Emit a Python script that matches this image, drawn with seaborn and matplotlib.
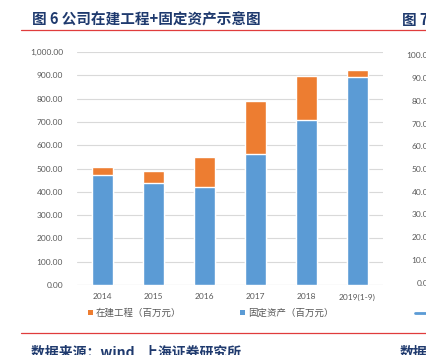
import matplotlib
matplotlib.use("Agg")
import matplotlib.pyplot as plt
import seaborn as sns
import pandas as pd
from matplotlib.patches import Patch
from matplotlib.lines import Line2D

years = ["2014", "2015", "2016", "2017", "2018", "2019(1-9)"]
fixed_assets = [472, 438, 419, 563, 709, 891]
construction = [36, 51, 130, 227, 188, 32]
yticks = [0, 100, 200, 300, 400, 500, 600, 700, 800, 900, 1000]
right_ticks = [0, 10, 20, 30, 40, 50, 60, 70, 80, 90, 100]

BLUE = "#5B9BD5"
ORANGE = "#ED7D31"
GRAY = "#595959"
NAVY = "#1F3A6E"
RED = "#E03C3C"

sns.set_theme(style="white")
plt.rcParams["font.family"] = ["Noto Sans CJK SC", "DejaVu Sans"]

W, H = 426, 355
fig = plt.figure(figsize=(W / 100, H / 100), dpi=100)
fig.patch.set_facecolor("white")

def fx(px):
    return px / W

def fy(py):
    return 1 - py / H

ax = fig.add_axes([fx(77), fy(285), fx(383) - fx(77), fy(52) - fy(285)])

df = pd.DataFrame({
    "year": years,
    "total": [a + b for a, b in zip(fixed_assets, construction)],
    "fixed": fixed_assets,
})

sns.barplot(data=df, x="year", y="total", color=ORANGE, width=0.4,
            saturation=1, ax=ax, zorder=2)
sns.barplot(data=df, x="year", y="fixed", color=BLUE, width=0.4,
            saturation=1, ax=ax, zorder=3)

ax.set_ylim(0, 1000)
ax.set_xlim(-0.5, len(years) - 0.5)
ax.set_yticks(yticks)
ax.set_yticklabels([f"{v:,.2f}" for v in yticks])
ax.set_xlabel("")
ax.set_ylabel("")
ax.yaxis.grid(True, color="#D9D9D9", linewidth=0.8, zorder=0)
ax.set_axisbelow(True)
for s in ["top", "right", "left", "bottom"]:
    ax.spines[s].set_visible(False)
ax.axhline(0, color="#D9D9D9", linewidth=0.8, zorder=1)
ax.tick_params(axis="both", length=0, colors=GRAY, labelsize=6)
ax.tick_params(axis="y", pad=10)
ax.tick_params(axis="x", pad=6)
for lab in ax.get_xticklabels() + ax.get_yticklabels():
    lab.set_fontfamily(["Lato", "DejaVu Sans"])
    lab.set_color(GRAY)

handles = [Patch(facecolor=ORANGE, edgecolor="none", label="在建工程（百万元）"),
           Patch(facecolor=BLUE, edgecolor="none", label="固定资产（百万元）")]
leg = fig.legend(handles=handles, loc="center left", ncol=2,
                 bbox_to_anchor=(fx(84), fy(313)), frameon=False,
                 fontsize=6.8, handlelength=0.55, handleheight=0.55,
                 handletextpad=0.3, columnspacing=6.2, borderaxespad=0)
for t in leg.get_texts():
    t.set_color(GRAY)

# title and rules
fig.text(fx(32), fy(20), "图 6 公司在建工程+固定资产示意图", fontsize=10.5,
         fontweight="bold", color=NAVY, va="center", ha="left")
fig.text(fx(402), fy(20), "图 7", fontsize=10.5, fontweight="bold",
         color=NAVY, va="center", ha="left")
fig.add_artist(Line2D([fx(21), 1.0], [fy(30), fy(30)], color=RED, linewidth=0.9))
fig.add_artist(Line2D([fx(21), 1.0], [fy(333), fy(333)], color=RED, linewidth=0.9))

# source note
fig.text(fx(31), fy(352), "数据来源：wind   上海证券研究所", fontsize=10,
         fontweight="bold", fontstyle="italic", color=NAVY, va="center", ha="left")
fig.text(fx(400), fy(352), "数据", fontsize=10, fontweight="bold",
         fontstyle="italic", color=NAVY, va="center", ha="left")

# neighbouring chart (partially visible)
for v in right_ticks:
    ypx = 283 - v * 2.27
    fig.text(fx(433), fy(ypx), f"{v:.2f}", fontsize=6, color=GRAY,
             family=["Lato", "DejaVu Sans"], ha="right", va="center")
fig.add_artist(Line2D([fx(415), 1.0], [fy(313), fy(313)], color=BLUE, linewidth=2))

fig.savefig("out.png", dpi=100, facecolor="white")
